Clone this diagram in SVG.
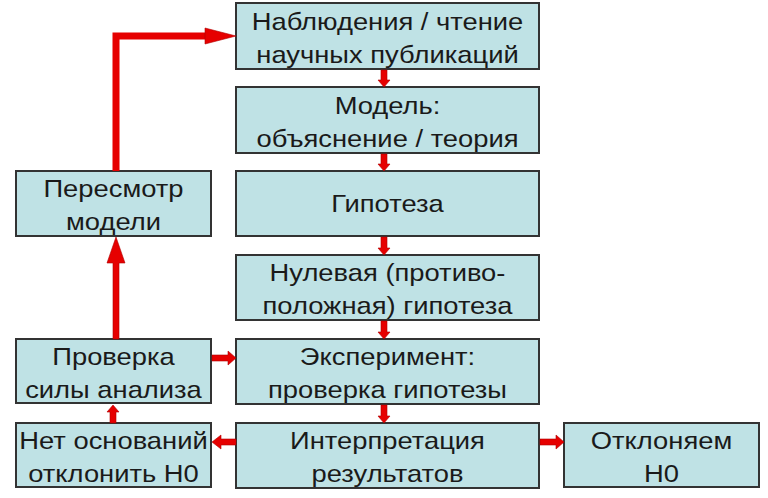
<svg xmlns="http://www.w3.org/2000/svg" width="768" height="498" viewBox="0 0 768 498">
<style>
.box{fill:#bfe2e5;stroke:#333;stroke-width:2}
.t{font-family:"Liberation Sans",Arial,sans-serif;font-size:24px;fill:#1a1a1a;text-anchor:middle}
.a{fill:#e60000;stroke:#b00000;stroke-width:0.6}
.ln{fill:none;stroke:#e60000;stroke-width:7}
</style>
<rect width="768" height="498" fill="#fff"/>
<g id="n1"><rect class="box" x="236" y="3" width="303" height="66"/><text class="t" transform="matrix(1.14 0 0 1 387.5 0)" y="30">Наблюдения / чтение</text><text class="t" transform="matrix(1.14 0 0 1 387.5 0)" y="63">научных публикаций</text></g>
<g id="n2"><rect class="box" x="236" y="87" width="303" height="66"/><text class="t" transform="matrix(1.14 0 0 1 387.5 0)" y="114">Модель:</text><text class="t" transform="matrix(1.14 0 0 1 387.5 0)" y="147">объяснение / теория</text></g>
<g id="n3"><rect class="box" x="236" y="171" width="303" height="65"/><text class="t" transform="matrix(1.14 0 0 1 387.5 0)" y="212">Гипотеза</text></g>
<g id="n4"><rect class="box" x="236" y="255" width="303" height="65"/><text class="t" transform="matrix(1.14 0 0 1 387.5 0)" y="281">Нулевая (противо-</text><text class="t" transform="matrix(1.14 0 0 1 387.5 0)" y="314">положная) гипотеза</text></g>
<g id="n5"><rect class="box" x="236" y="339" width="303" height="65"/><text class="t" transform="matrix(1.14 0 0 1 387.5 0)" y="365">Эксперимент:</text><text class="t" transform="matrix(1.14 0 0 1 387.5 0)" y="398">проверка гипотезы</text></g>
<g id="n6"><rect class="box" x="236" y="423" width="303" height="65"/><text class="t" transform="matrix(1.14 0 0 1 387.5 0)" y="449">Интерпретация</text><text class="t" transform="matrix(1.14 0 0 1 387.5 0)" y="482">результатов</text></g>
<g id="n7"><rect class="box" x="16" y="171" width="195" height="65"/><text class="t" transform="matrix(1.14 0 0 1 113.5 0)" y="197">Пересмотр</text><text class="t" transform="matrix(1.14 0 0 1 113.5 0)" y="230">модели</text></g>
<g id="n8"><rect class="box" x="16" y="339" width="195" height="64"/><text class="t" transform="matrix(1.14 0 0 1 113.5 0)" y="365">Проверка</text><text class="t" transform="matrix(1.14 0 0 1 113.5 0)" y="398">силы анализа</text></g>
<g id="n9"><rect class="box" x="16" y="423" width="195" height="64"/><text class="t" transform="matrix(1.14 0 0 1 113.5 0)" y="449">Нет оснований</text><text class="t" transform="matrix(1.14 0 0 1 113.5 0)" y="482">отклонить Н0</text></g>
<g id="n10"><rect class="box" x="564" y="423" width="195" height="64"/><text class="t" transform="matrix(1.14 0 0 1 661.5 0)" y="449">Отклоняем</text><text class="t" transform="matrix(1.14 0 0 1 661.5 0)" y="482">Н0</text></g>
<g id="connectors">
<polygon class="a" points="381,70 387,70 387,80 390,80 384,87 378,80 381,80"/>
<polygon class="a" points="381,154 387,154 387,164 390,164 384,171 378,164 381,164"/>
<polygon class="a" points="381,237 387,237 387,248 390,248 384,255 378,248 381,248"/>
<polygon class="a" points="381,321 387,321 387,332 390,332 384,339 378,332 381,332"/>
<polygon class="a" points="381,405 387,405 387,416 390,416 384,423 378,416 381,416"/>
<polyline class="ln" points="116,171 116,36 207,36"/>
<polygon class="a" points="205,28 236,36 205,44"/>
<polygon class="a" points="113,339 119,339 119,263 125,263 116,237 107,263 113,263"/>
<polygon class="a" points="110,423 116,423 116,412 119,412 113,405 107,412 110,412"/>
<polygon class="a" points="212,355 228,355 228,351 236,358 228,365 228,361 212,361"/>
<polygon class="a" points="236,439 221,439 221,435 212,442 221,449 221,445 236,445"/>
<polygon class="a" points="540,439 556,439 556,435 564,442 556,449 556,445 540,445"/>
</g>
</svg>
